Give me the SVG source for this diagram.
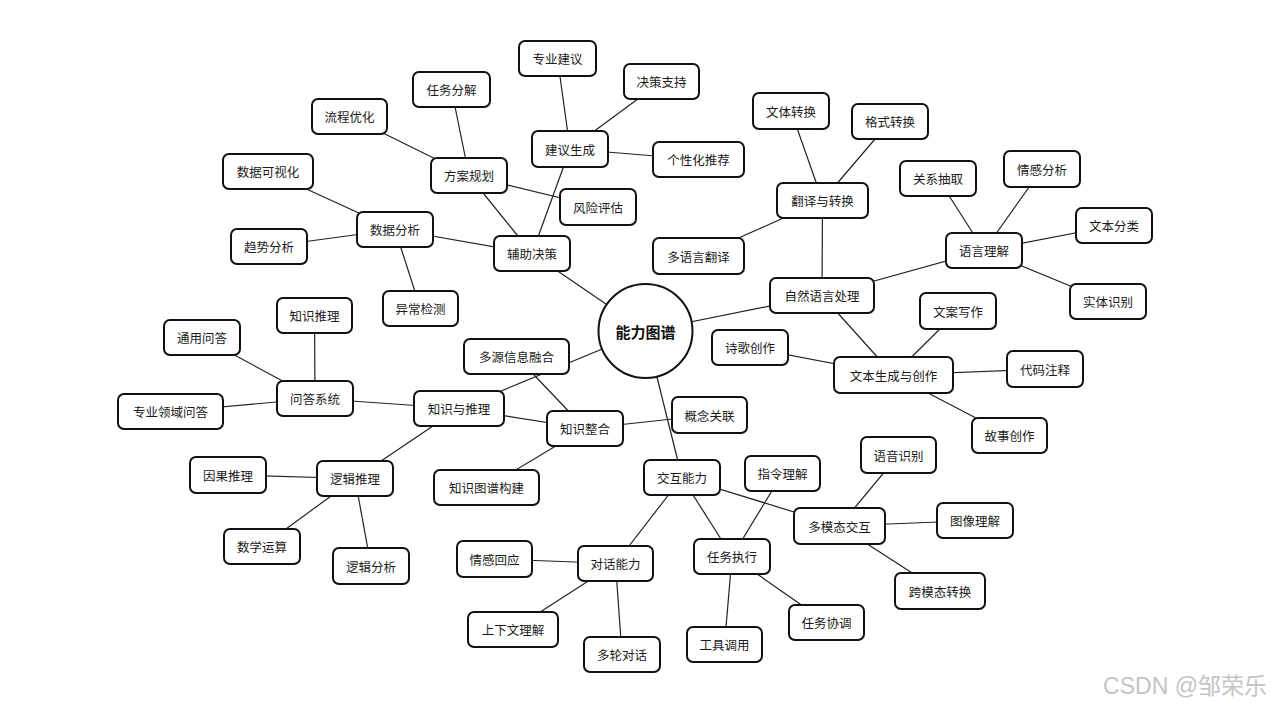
<svg xmlns="http://www.w3.org/2000/svg" width="1273" height="705" viewBox="0 0 1273 705">
<style>
.n rect{fill:#fff;stroke:#111;stroke-width:2;}
.n text{font-family:"Noto Sans CJK SC","Noto Sans",sans-serif;font-size:12.5px;fill:#1a1a1a;text-anchor:middle;dominant-baseline:central;}
.e line{stroke:#222;stroke-width:1.2;}
.c circle{fill:#fff;stroke:#111;stroke-width:2;}
.c text{font-family:"Noto Sans CJK SC","Noto Sans",sans-serif;font-size:15px;font-weight:bold;fill:#111;text-anchor:middle;dominant-baseline:central;}
.wm{font-family:"Liberation Sans","Noto Sans CJK SC",sans-serif;font-size:23px;fill:#c4c4c4;text-anchor:end;}
</style>
<rect width="1273" height="705" fill="#fff"/>
<g id="connectors" class="e">
<line x1="645.5" y1="331" x2="532" y2="253.5"/>
<line x1="645.5" y1="331" x2="822" y2="295.5"/>
<line x1="645.5" y1="331" x2="459" y2="408.5"/>
<line x1="645.5" y1="331" x2="682" y2="477.5"/>
<line x1="532" y1="253.5" x2="395" y2="229.5"/>
<line x1="532" y1="253.5" x2="469" y2="175.5"/>
<line x1="532" y1="253.5" x2="570" y2="149"/>
<line x1="469" y1="175.5" x2="451.5" y2="89.5"/>
<line x1="469" y1="175.5" x2="349.5" y2="116.5"/>
<line x1="469" y1="175.5" x2="598" y2="207"/>
<line x1="570" y1="149" x2="557.5" y2="58.5"/>
<line x1="570" y1="149" x2="661.5" y2="81.5"/>
<line x1="570" y1="149" x2="698.5" y2="159.5"/>
<line x1="395" y1="229.5" x2="268" y2="171.5"/>
<line x1="395" y1="229.5" x2="269" y2="246.5"/>
<line x1="395" y1="229.5" x2="420.5" y2="308.5"/>
<line x1="822" y1="295.5" x2="822.5" y2="200.5"/>
<line x1="822" y1="295.5" x2="984" y2="250.5"/>
<line x1="822" y1="295.5" x2="893.5" y2="375"/>
<line x1="822.5" y1="200.5" x2="791" y2="111"/>
<line x1="822.5" y1="200.5" x2="890" y2="121.5"/>
<line x1="822.5" y1="200.5" x2="698.5" y2="256"/>
<line x1="984" y1="250.5" x2="938" y2="178.5"/>
<line x1="984" y1="250.5" x2="1042" y2="169"/>
<line x1="984" y1="250.5" x2="1114" y2="225.5"/>
<line x1="984" y1="250.5" x2="1108" y2="301.5"/>
<line x1="893.5" y1="375" x2="958" y2="311"/>
<line x1="893.5" y1="375" x2="750" y2="347.5"/>
<line x1="893.5" y1="375" x2="1045" y2="369"/>
<line x1="893.5" y1="375" x2="1009.5" y2="435.5"/>
<line x1="459" y1="408.5" x2="315" y2="398.5"/>
<line x1="459" y1="408.5" x2="355" y2="478.5"/>
<line x1="459" y1="408.5" x2="585" y2="428.5"/>
<line x1="516.5" y1="356.5" x2="585" y2="428.5"/>
<line x1="585" y1="428.5" x2="709.5" y2="415"/>
<line x1="585" y1="428.5" x2="486.5" y2="487.5"/>
<line x1="315" y1="398.5" x2="314.5" y2="315.5"/>
<line x1="315" y1="398.5" x2="202" y2="337.5"/>
<line x1="315" y1="398.5" x2="170.5" y2="411.5"/>
<line x1="355" y1="478.5" x2="228" y2="475"/>
<line x1="355" y1="478.5" x2="262" y2="546.5"/>
<line x1="355" y1="478.5" x2="371" y2="566"/>
<line x1="682" y1="477.5" x2="615.5" y2="563.5"/>
<line x1="682" y1="477.5" x2="732" y2="556.5"/>
<line x1="682" y1="477.5" x2="839.5" y2="526"/>
<line x1="732" y1="556.5" x2="782.5" y2="473.5"/>
<line x1="732" y1="556.5" x2="724.5" y2="644.5"/>
<line x1="732" y1="556.5" x2="826.5" y2="622.5"/>
<line x1="839.5" y1="526" x2="898.5" y2="455"/>
<line x1="839.5" y1="526" x2="975" y2="520.5"/>
<line x1="839.5" y1="526" x2="940" y2="591"/>
<line x1="615.5" y1="563.5" x2="494.5" y2="559"/>
<line x1="615.5" y1="563.5" x2="513" y2="629.5"/>
<line x1="615.5" y1="563.5" x2="622" y2="654.5"/>
</g>
<g id="center" class="c"><circle cx="645.5" cy="331" r="47"/><text x="645.5" y="331">能力图谱</text></g>
<g id="n-fzjc" class="n"><rect x="494" y="236" width="76" height="35" rx="6"/><text x="532" y="253.5">辅助决策</text></g>
<g id="n-sjfx" class="n"><rect x="357" y="212" width="76" height="35" rx="6"/><text x="395" y="229.5">数据分析</text></g>
<g id="n-fagh" class="n"><rect x="431" y="158" width="76" height="35" rx="6"/><text x="469" y="175.5">方案规划</text></g>
<g id="n-jysc" class="n"><rect x="532" y="131" width="76" height="36" rx="6"/><text x="570" y="149">建议生成</text></g>
<g id="n-rwfj" class="n"><rect x="413" y="72" width="77" height="35" rx="6"/><text x="451.5" y="89.5">任务分解</text></g>
<g id="n-lcyh" class="n"><rect x="312" y="99" width="75" height="35" rx="6"/><text x="349.5" y="116.5">流程优化</text></g>
<g id="n-fxpg" class="n"><rect x="560" y="189" width="76" height="36" rx="6"/><text x="598" y="207">风险评估</text></g>
<g id="n-zyjy" class="n"><rect x="519" y="41" width="77" height="35" rx="6"/><text x="557.5" y="58.5">专业建议</text></g>
<g id="n-jczc" class="n"><rect x="624" y="64" width="75" height="35" rx="6"/><text x="661.5" y="81.5">决策支持</text></g>
<g id="n-gxhtj" class="n"><rect x="653" y="142" width="91" height="35" rx="6"/><text x="698.5" y="159.5">个性化推荐</text></g>
<g id="n-sjksh" class="n"><rect x="223" y="154" width="90" height="35" rx="6"/><text x="268" y="171.5">数据可视化</text></g>
<g id="n-qsfx" class="n"><rect x="231" y="229" width="76" height="35" rx="6"/><text x="269" y="246.5">趋势分析</text></g>
<g id="n-ycjc" class="n"><rect x="383" y="291" width="75" height="35" rx="6"/><text x="420.5" y="308.5">异常检测</text></g>
<g id="n-nlp" class="n"><rect x="770" y="278" width="104" height="35" rx="6"/><text x="822" y="295.5">自然语言处理</text></g>
<g id="n-fyzh" class="n"><rect x="777" y="183" width="91" height="35" rx="6"/><text x="822.5" y="200.5">翻译与转换</text></g>
<g id="n-wtzh" class="n"><rect x="753" y="93" width="76" height="36" rx="6"/><text x="791" y="111">文体转换</text></g>
<g id="n-gszh" class="n"><rect x="852" y="104" width="76" height="35" rx="6"/><text x="890" y="121.5">格式转换</text></g>
<g id="n-dyyfy" class="n"><rect x="653" y="238" width="91" height="36" rx="6"/><text x="698.5" y="256">多语言翻译</text></g>
<g id="n-yylj" class="n"><rect x="946" y="233" width="76" height="35" rx="6"/><text x="984" y="250.5">语言理解</text></g>
<g id="n-gxcq" class="n"><rect x="900" y="161" width="76" height="35" rx="6"/><text x="938" y="178.5">关系抽取</text></g>
<g id="n-qgfx" class="n"><rect x="1004" y="151" width="76" height="36" rx="6"/><text x="1042" y="169">情感分析</text></g>
<g id="n-wbfl" class="n"><rect x="1076" y="208" width="76" height="35" rx="6"/><text x="1114" y="225.5">文本分类</text></g>
<g id="n-stsb" class="n"><rect x="1070" y="284" width="76" height="35" rx="6"/><text x="1108" y="301.5">实体识别</text></g>
<g id="n-wbsc" class="n"><rect x="834" y="357" width="119" height="36" rx="6"/><text x="893.5" y="375">文本生成与创作</text></g>
<g id="n-waxz" class="n"><rect x="920" y="293" width="76" height="36" rx="6"/><text x="958" y="311">文案写作</text></g>
<g id="n-sgcz" class="n"><rect x="712" y="330" width="76" height="35" rx="6"/><text x="750" y="347.5">诗歌创作</text></g>
<g id="n-dmzs" class="n"><rect x="1007" y="351" width="76" height="36" rx="6"/><text x="1045" y="369">代码注释</text></g>
<g id="n-gscz" class="n"><rect x="972" y="418" width="75" height="35" rx="6"/><text x="1009.5" y="435.5">故事创作</text></g>
<g id="n-zsytl" class="n"><rect x="414" y="391" width="90" height="35" rx="6"/><text x="459" y="408.5">知识与推理</text></g>
<g id="n-dyxxrh" class="n"><rect x="464" y="339" width="105" height="35" rx="6"/><text x="516.5" y="356.5">多源信息融合</text></g>
<g id="n-zszh" class="n"><rect x="547" y="411" width="76" height="35" rx="6"/><text x="585" y="428.5">知识整合</text></g>
<g id="n-gngl" class="n"><rect x="672" y="397" width="75" height="36" rx="6"/><text x="709.5" y="415">概念关联</text></g>
<g id="n-zstpgj" class="n"><rect x="434" y="470" width="105" height="35" rx="6"/><text x="486.5" y="487.5">知识图谱构建</text></g>
<g id="n-wdxt" class="n"><rect x="277" y="381" width="76" height="35" rx="6"/><text x="315" y="398.5">问答系统</text></g>
<g id="n-zstl" class="n"><rect x="277" y="298" width="75" height="35" rx="6"/><text x="314.5" y="315.5">知识推理</text></g>
<g id="n-tywd" class="n"><rect x="164" y="320" width="76" height="35" rx="6"/><text x="202" y="337.5">通用问答</text></g>
<g id="n-zylywd" class="n"><rect x="118" y="394" width="105" height="35" rx="6"/><text x="170.5" y="411.5">专业领域问答</text></g>
<g id="n-ljtl" class="n"><rect x="317" y="461" width="76" height="35" rx="6"/><text x="355" y="478.5">逻辑推理</text></g>
<g id="n-ygtl" class="n"><rect x="190" y="457" width="76" height="36" rx="6"/><text x="228" y="475">因果推理</text></g>
<g id="n-sxys" class="n"><rect x="224" y="529" width="76" height="35" rx="6"/><text x="262" y="546.5">数学运算</text></g>
<g id="n-ljfx" class="n"><rect x="333" y="548" width="76" height="36" rx="6"/><text x="371" y="566">逻辑分析</text></g>
<g id="n-jhnl" class="n"><rect x="644" y="460" width="76" height="35" rx="6"/><text x="682" y="477.5">交互能力</text></g>
<g id="n-dhnl" class="n"><rect x="578" y="546" width="75" height="35" rx="6"/><text x="615.5" y="563.5">对话能力</text></g>
<g id="n-rwzx" class="n"><rect x="694" y="539" width="76" height="35" rx="6"/><text x="732" y="556.5">任务执行</text></g>
<g id="n-dmtjh" class="n"><rect x="794" y="508" width="91" height="36" rx="6"/><text x="839.5" y="526">多模态交互</text></g>
<g id="n-zllj" class="n"><rect x="745" y="456" width="75" height="35" rx="6"/><text x="782.5" y="473.5">指令理解</text></g>
<g id="n-gjdy" class="n"><rect x="687" y="627" width="75" height="35" rx="6"/><text x="724.5" y="644.5">工具调用</text></g>
<g id="n-rwxt" class="n"><rect x="789" y="605" width="75" height="35" rx="6"/><text x="826.5" y="622.5">任务协调</text></g>
<g id="n-yysb" class="n"><rect x="861" y="437" width="75" height="36" rx="6"/><text x="898.5" y="455">语音识别</text></g>
<g id="n-txlj" class="n"><rect x="937" y="503" width="76" height="35" rx="6"/><text x="975" y="520.5">图像理解</text></g>
<g id="n-kmtzh" class="n"><rect x="895" y="573" width="90" height="36" rx="6"/><text x="940" y="591">跨模态转换</text></g>
<g id="n-qghy" class="n"><rect x="457" y="541" width="75" height="36" rx="6"/><text x="494.5" y="559">情感回应</text></g>
<g id="n-sxwlj" class="n"><rect x="468" y="612" width="90" height="35" rx="6"/><text x="513" y="629.5">上下文理解</text></g>
<g id="n-dldh" class="n"><rect x="584" y="637" width="76" height="35" rx="6"/><text x="622" y="654.5">多轮对话</text></g>
<text class="wm" x="1267" y="694">CSDN @邹荣乐</text>
</svg>
